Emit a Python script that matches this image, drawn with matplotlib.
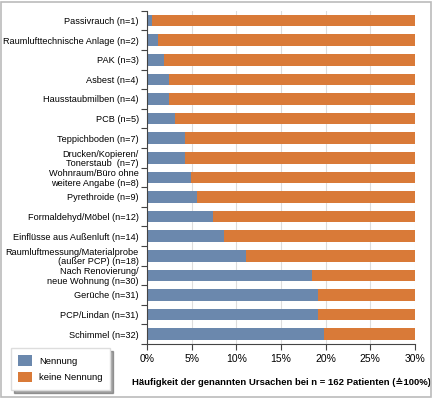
import numpy as np
import matplotlib
matplotlib.use("Agg")
import matplotlib.pyplot as plt
import matplotlib.patches as patches

plt.rcParams['font.family'] = ['Liberation Sans', 'DejaVu Sans']

# causes named by patients (top to bottom)
labels = [
    "Passivrauch (n=1)",
    "Raumlufttechnische Anlage (n=2)",
    "PAK (n=3)",
    "Asbest (n=4)",
    "Hausstaubmilben (n=4)",
    "PCB (n=5)",
    "Teppichboden (n=7)",
    "Drucken/Kopieren/\nTonerstaub  (n=7)",
    "Wohnraum/Büro ohne\nweitere Angabe (n=8)",
    "Pyrethroide (n=9)",
    "Formaldehyd/Möbel (n=12)",
    "Einflüsse aus Außenluft (n=14)",
    "Raumluftmessung/Materialprobe\n(außer PCP) (n=18)",
    "Nach Renovierung/\nneue Wohnung (n=30)",
    "Gerüche (n=31)",
    "PCP/Lindan (n=31)",
    "Schimmel (n=32)",
]
nennung = [0.6, 1.2, 1.9, 2.5, 2.5, 3.1, 4.3, 4.3, 4.9, 5.6, 7.4, 8.6, 11.1, 18.5, 19.1, 19.1, 19.8]
keine_nennung = [99.4, 98.8, 98.1, 97.5, 97.5, 96.9, 95.7, 95.7, 95.1, 94.4, 92.6, 91.4, 88.9, 81.5, 80.9, 80.9, 80.2]
xticks = [0, 5, 10, 15, 20, 25, 30]

blue = "#6b88ad"
orange = "#d97a38"

fig = plt.figure(figsize=(4.35, 4.0), dpi=100)
ax = fig.add_axes([0.338, 0.14, 0.616, 0.833])

y = np.arange(len(labels))
b1 = ax.barh(y, nennung, height=0.6, color=blue, label="Nennung", zorder=2)
b2 = ax.barh(y, keine_nennung, left=nennung, height=0.6, color=orange, label="keine Nennung", zorder=2)

ax.set_xlim(0, 30)
ax.set_ylim(len(labels) - 0.5, -0.5)

ax.set_yticks(y)
ax.set_yticklabels(labels, fontsize=6.6, multialignment='right', linespacing=1.05)
ax.tick_params(axis='y', which='major', length=0, pad=6)
ax.set_yticks(np.arange(-0.5, len(labels)), minor=True)
ax.tick_params(axis='y', which='minor', length=4, width=0.8, color="#444444")

ax.set_xticks(xticks)
ax.set_xticklabels([f"{t}%" for t in xticks], fontsize=7.5)
ax.tick_params(axis='x', length=4, width=0.8, color="#444444", pad=3)

ax.grid(axis='x', color="#dddddd", linewidth=0.8, zorder=0)
ax.set_axisbelow(True)
for s in ['top', 'right']:
    ax.spines[s].set_visible(False)
for s in ['left', 'bottom']:
    ax.spines[s].set_color("#444444")
    ax.spines[s].set_linewidth(0.8)

ax.set_xlabel("Häufigkeit der genannten Ursachen bei n = 162 Patienten (≙100%)",
              fontsize=6.8, fontweight='bold', labelpad=10)

fig.legend(handles=[b1, b2], loc='lower left', bbox_to_anchor=(0.025, 0.025),
           fontsize=6.8, frameon=True, fancybox=False, shadow=True,
           edgecolor="#dddddd", handlelength=1.4, handleheight=1.4,
           borderpad=0.8, labelspacing=0.55, borderaxespad=0)

# outer frame of the figure
frame = patches.Rectangle((0.003, 0.008), 0.987, 0.988, transform=fig.transFigure,
                          fill=False, edgecolor="#bbbbbb", linewidth=1.2)
fig.patches.append(frame)

fig.savefig("out.png", dpi=100)
